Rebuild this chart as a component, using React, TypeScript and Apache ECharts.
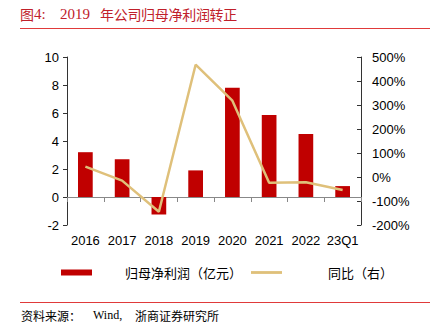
import React, { useEffect, useRef } from "react";
import * as echarts from "echarts";

const categories = ["2016", "2017", "2018", "2019", "2020", "2021", "2022", "23Q1"];
const profit = [3.2, 2.7, -1.25, 1.9, 7.8, 5.85, 4.5, 0.78];
const yoy = [43, -15, -145, 468, 318, -24, -22, -54];
const leftTicks = { min: -2, max: 10, interval: 2 };
const rightTicks = { min: -200, max: 500, interval: 100 };

const serif = "Liberation Serif, Noto Sans CJK SC, serif";
const cjk = "Noto Sans CJK SC";

export default function App() {
  const ref = useRef<HTMLDivElement>(null);
  useEffect(() => {
    if (!ref.current) return;
    const chart = echarts.init(ref.current, null, { renderer: "svg" });
    const font = "Liberation Sans, Arial, sans-serif";
    const t = (text: string, x: number, y: number, size: number, fill: string, family = serif) => ({
      type: "text",
      x,
      y,
      style: { text, fill, fontSize: size, fontFamily: family, verticalAlign: "middle", textAlign: "left" },
    });
    const spaced = (text: string, x: number, y: number, size: number, pitch: number, fill: string) =>
      Array.from(text).map((ch, i) => t(ch, x + i * pitch, y, size, fill, cjk));
    chart.setOption({
      animation: false,
      backgroundColor: "#ffffff",
      grid: { left: 67, right: 71, top: 57, bottom: 105 },
      legend: {
        left: 61,
        top: 266,
        padding: 0,
        itemWidth: 31,
        itemHeight: 6,
        itemGap: 9,
        symbolKeepAspect: true,
        textStyle: {
          fontSize: 13,
          color: "#000",
          fontFamily: cjk,
        },
        data: [
          { name: "归母净利润（亿元）", icon: "rect", textStyle: { padding: [0, 0, 0, 28] } },
          {
            name: "同比（右）",
            icon: "path://M0,0 L33,0 L33,3 L0,3 Z",
            textStyle: { padding: [0, 0, 0, 41] },
          },
        ],
      },
      xAxis: [
        {
          type: "category",
          data: categories,
          position: "bottom",
          axisLine: { show: false, onZero: false },
          axisTick: { show: false },
          axisLabel: { fontSize: 13, color: "#000", fontFamily: font, margin: 9, interval: 0 },
        },
        {
          type: "category",
          data: categories,
          position: "bottom",
          axisLine: { show: true, onZero: true, onZeroAxisIndex: 0, lineStyle: { color: "#888", width: 1 } },
          axisTick: { show: true, length: 5, interval: 0, lineStyle: { color: "#888" } },
          axisLabel: { show: false },
        },
      ],
      yAxis: [
        {
          type: "value",
          ...leftTicks,
          splitLine: { show: false },
          axisLine: { show: true, lineStyle: { color: "#333" } },
          axisTick: { show: true, length: 4, lineStyle: { color: "#333" } },
          axisLabel: { fontSize: 13, color: "#000", fontFamily: font, margin: 8 },
        },
        {
          type: "value",
          ...rightTicks,
          position: "right",
          splitLine: { show: false },
          axisLine: { show: true, lineStyle: { color: "#333" } },
          axisTick: { show: true, inside: true, length: 4, lineStyle: { color: "#333" } },
          axisLabel: {
            fontSize: 13,
            color: "#000",
            fontFamily: font,
            margin: 11,
            formatter: "{value}%",
          },
        },
      ],
      series: [
        {
          name: "归母净利润（亿元）",
          type: "bar",
          data: profit,
          xAxisIndex: 0,
          yAxisIndex: 0,
          barWidth: "40%",
          itemStyle: { color: "#C00000" },
        },
        {
          name: "同比（右）",
          type: "line",
          data: yoy,
          xAxisIndex: 0,
          yAxisIndex: 1,
          symbol: "none",
          lineStyle: { color: "#DFC07A", width: 2.5 },
          itemStyle: { color: "#DFC07A" },
        },
      ],
      graphic: [
        t("图", 20, 14, 14, "#C0202A", cjk),
        t("4:", 34, 14, 15, "#C0202A"),
        t("2019", 60, 14, 15, "#C0202A"),
        ...spaced("年公司归母净利润转正", 100, 14, 14, 13.7, "#C0202A"),
        {
          type: "line",
          shape: { x1: 20, y1: 28.5, x2: 430, y2: 28.5 },
          style: { stroke: "#E03A3A", lineWidth: 1 },
        },
        {
          type: "line",
          shape: { x1: 20, y1: 302.5, x2: 430, y2: 302.5 },
          style: { stroke: "#E03A3A", lineWidth: 1 },
        },
        t("资料来源：", 21, 315, 12, "#000", cjk),
        t("Wind,", 93, 315, 12, "#000"),
        t("浙商证券研究所", 135, 315, 12, "#000", cjk),
      ],
    });
    return () => chart.dispose();
  }, []);
  return <div ref={ref} style={{ width: 432, height: 330, position: "absolute", left: 0, top: 0 }} />;
}
